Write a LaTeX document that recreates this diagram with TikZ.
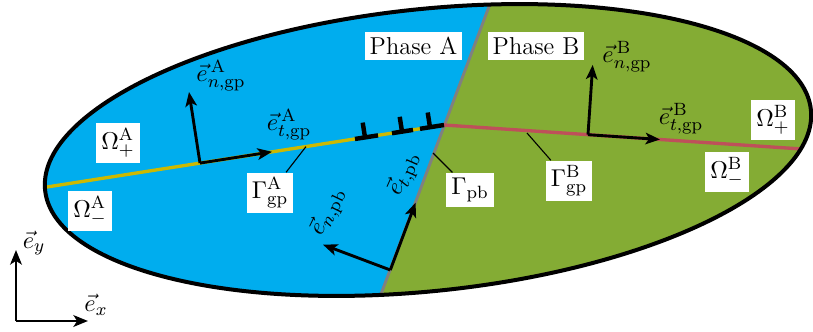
\documentclass[tikz,border=0pt]{standalone}
\usetikzlibrary{arrows.meta}
\definecolor{phaseA}{RGB}{0,173,238}
\definecolor{phaseB}{RGB}{132,172,52}
\definecolor{gbA}{RGB}{205,185,0}
\definecolor{gbB}{RGB}{190,80,90}
\definecolor{pbgray}{RGB}{128,128,128}
\tikzset{
  vecarrow/.style={-{Stealth[length=6.5pt,width=5.2pt,inset=1.6pt]}, line width=1.3pt},
  boxlbl/.style={fill=white, inner sep=2.3pt},
  veclbl/.style={inner sep=0pt},
  leader/.style={line width=0.5pt},
  dislo/.style={line width=2pt},
  outline/.style={line width=1.8pt},
  every node/.append style={font=\fontsize{11}{13}\selectfont}
}
\begin{document}
\begin{tikzpicture}[x=0.45pt,y=-0.45pt]
\useasboundingbox (0,0) rectangle (813,332);
% phases
\begin{scope}
  \clip[rotate around={6:(428,150)}] (428,150) ellipse [x radius=173.25pt, y radius=63.45pt];
  \fill[phaseA] (-20,-60) -- (514,-60) -- (360,350) -- (-20,350) -- cycle;
  \fill[phaseB] (514,-60) -- (900,-60) -- (900,350) -- (360,350) -- cycle;
  \draw[pbgray, line width=1.3pt] (514,-60) -- (360,350);
  \draw[gbA, line width=1.5pt] (20,191.2) -- (444,125);
  \draw[gbB, line width=1.5pt] (444,125) -- (830,150.9);
\end{scope}
% dislocations
\draw[dislo] (355,138.95) -- (378,135.4);
\draw[dislo] (392,133.2) -- (413,129.9);
\draw[dislo] (420,128.8) -- (444,125);
\draw[dislo] (365,137.4) -- (362.7,122.6);
\draw[dislo] (402,131.6) -- (399.7,116.8);
\draw[dislo] (430,127.3) -- (427.7,112.5);
% outline
\draw[outline, rotate around={6:(428,150)}] (428,150) ellipse [x radius=173.25pt, y radius=63.45pt];
% coordinates
\coordinate (oA) at (200,163.1);
\coordinate (tA) at (272,151.8);
\coordinate (nA) at (189,92);
\coordinate (oB) at (588,134.7);
\coordinate (tB) at (660,139.5);
\coordinate (nB) at (592.7,64.9);
\coordinate (oP) at (390.3,270);
\coordinate (tP) at (415.6,202.6);
\coordinate (nP) at (323,244.7);
\coordinate (o) at (16,321);
\coordinate (ey) at (16,250);
\coordinate (ex) at (88,321);
\coordinate (lgA) at (306,146.6);
\coordinate (lpb) at (433,153);
\coordinate (lgB) at (527,133);
% arrows
\draw[vecarrow] (oA) -- (tA);
\draw[vecarrow] (oA) -- (nA);
\draw[vecarrow] (oB) -- (tB);
\draw[vecarrow] (oB) -- (nB);
\draw[vecarrow] (oP) -- (tP);
\draw[vecarrow] (oP) -- (nP);
\draw[vecarrow] (o) -- (ey);
\draw[vecarrow] (o) -- (ex);
% vector labels
\node[veclbl] (LnA) at (221,76) {$\vec{e}^{\,\mathrm{A}}_{n,\mathrm{gp}}$};
\node[veclbl] (LtA) at (289,125) {$\vec{e}^{\,\mathrm{A}}_{t,\mathrm{gp}}$};
\node[veclbl] (LnB) at (627,57) {$\vec{e}^{\,\mathrm{B}}_{n,\mathrm{gp}}$};
\node[veclbl] (LtB) at (681,119) {$\vec{e}^{\,\mathrm{B}}_{t,\mathrm{gp}}$};
\node[veclbl, rotate=66] (LtP) at (404,174) {$\vec{e}_{t,\mathrm{pb}}$};
\node[veclbl, rotate=64] (LnP) at (328,212) {$\vec{e}_{n,\mathrm{pb}}$};
\node[veclbl] (Ley) at (34,243) {$\vec{e}_y$};
\node[veclbl] (Lex) at (96,305) {$\vec{e}_x$};
% boxed labels
\node[boxlbl] (phA) at (413.5,46) {Phase A};
\node[boxlbl] (phB) at (536,46) {Phase B};
\node[boxlbl] (OpA) at (118,143) {$\Omega^{\mathrm{A}}_{+}$};
\node[boxlbl] (OmA) at (90,211) {$\Omega^{\mathrm{A}}_{-}$};
\node[boxlbl] (OpB) at (773,120) {$\Omega^{\mathrm{B}}_{+}$};
\node[boxlbl] (OmB) at (727,172) {$\Omega^{\mathrm{B}}_{-}$};
\node[boxlbl] (GgA) at (270,193) {$\Gamma^{\mathrm{A}}_{\mathrm{gp}}$};
\node[boxlbl] (Gpb) at (470,190) {$\Gamma_{\mathrm{pb}}$};
\node[boxlbl] (GgB) at (569,181) {$\Gamma^{\mathrm{B}}_{\mathrm{gp}}$};
% leaders
\draw[leader] (GgA) -- (lgA);
\draw[leader] (Gpb) -- (lpb);
\draw[leader] (GgB) -- (lgB);
\end{tikzpicture}
\end{document}
